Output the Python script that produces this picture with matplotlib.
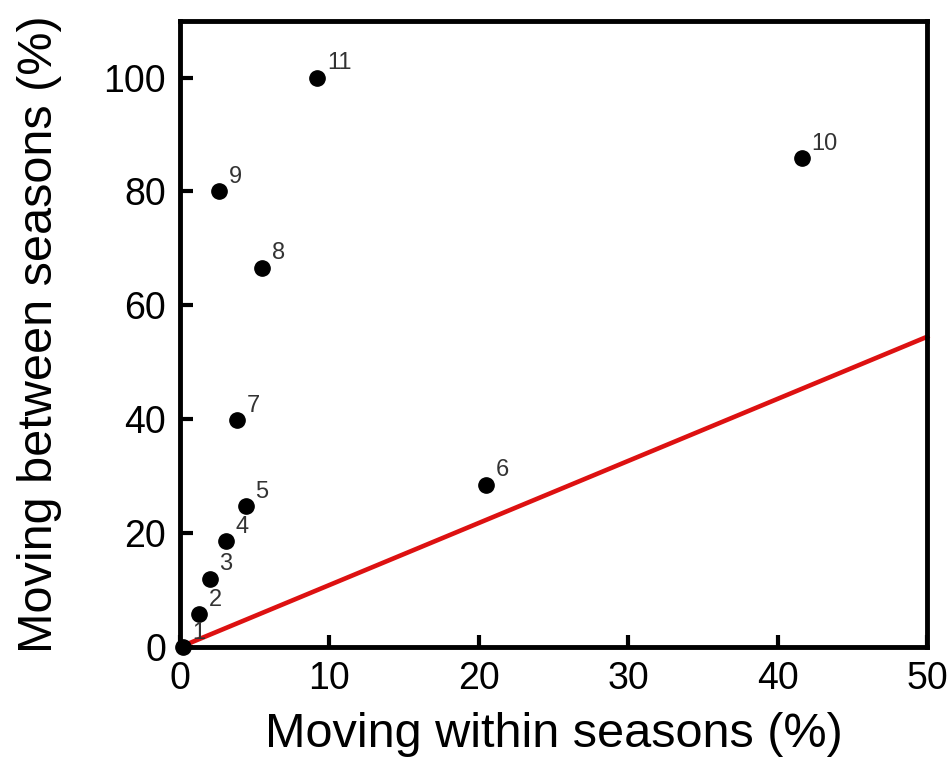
import matplotlib.pyplot as plt

plt.rcParams['font.family'] = ['Liberation Sans', 'DejaVu Sans']

# Site data: % moving within seasons vs % moving between seasons
site_ids = ['1', '2', '3', '4', '5', '6', '7', '8', '9', '10', '11']
within = [0.2, 1.3, 2.0, 3.1, 4.4, 20.5, 3.8, 5.5, 2.6, 41.6, 9.2]
between = [0.0, 5.8, 12.0, 18.6, 24.8, 28.5, 39.9, 66.6, 80.0, 85.8, 100.0]

# Reference line
line_x = [0, 50]
line_y = [0, 54.5]

fig = plt.figure(figsize=(9.52, 7.64), dpi=100)
ax = fig.add_axes([0.189, 0.153, 0.785, 0.82])

ax.plot(line_x, line_y, color='#dd1111', lw=3.3, zorder=2, clip_on=False)
ax.plot(within, between, 'o', color='black', markersize=11, zorder=3, clip_on=False)

for lab, x, y in zip(site_ids, within, between):
    ax.annotate(lab, (x, y), xytext=(7, 6), textcoords='offset points',
                fontsize=17, color='#333333')

ax.set_xlim(0, 50)
ax.set_ylim(0, 110)
ax.set_xticks([0, 10, 20, 30, 40, 50])
ax.set_yticks([0, 20, 40, 60, 80, 100])
ax.tick_params(direction='in', length=9, width=3, labelsize=27, pad=10)
for s in ax.spines.values():
    s.set_linewidth(3.5)

ax.set_xlabel('Moving within seasons (%)', fontsize=35, labelpad=11)
ax.set_ylabel('Moving between seasons (%)', fontsize=35, labelpad=30)

fig.savefig('out.png', dpi=100)
